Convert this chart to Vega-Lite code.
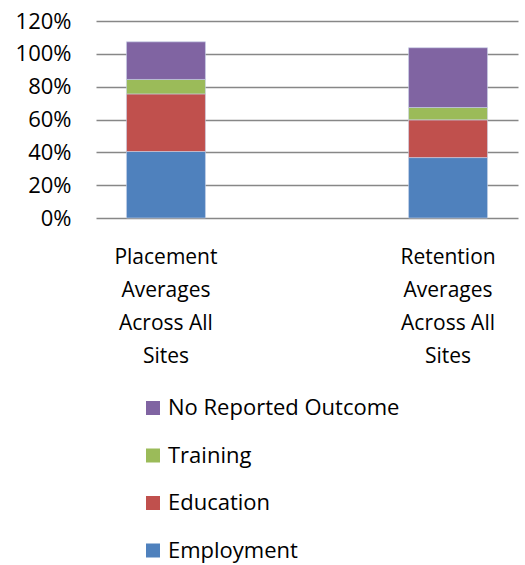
{
  "$schema": "https://vega.github.io/schema/vega-lite/v6.json",
  "autosize": "none",
  "width": 422,
  "height": 197,
  "padding": {"left": 96, "top": 21, "right": 7, "bottom": 347},
  "background": "white",
  "data": {
    "values": [
      {"site": "Placement|Averages|Across All|Sites", "outcome": "Employment", "value": 0.405, "ord": 1},
      {"site": "Placement|Averages|Across All|Sites", "outcome": "Education", "value": 0.351, "ord": 2},
      {"site": "Placement|Averages|Across All|Sites", "outcome": "Training", "value": 0.088, "ord": 3},
      {"site": "Placement|Averages|Across All|Sites", "outcome": "No Reported Outcome", "value": 0.229, "ord": 4},
      {"site": "Retention|Averages|Across All|Sites", "outcome": "Employment", "value": 0.368, "ord": 1},
      {"site": "Retention|Averages|Across All|Sites", "outcome": "Education", "value": 0.230, "ord": 2},
      {"site": "Retention|Averages|Across All|Sites", "outcome": "Training", "value": 0.075, "ord": 3},
      {"site": "Retention|Averages|Across All|Sites", "outcome": "No Reported Outcome", "value": 0.364, "ord": 4}
    ]
  },
  "mark": {"type": "bar", "stroke": "#c9d4ea", "strokeWidth": 0.6},
  "encoding": {
    "x": {
      "field": "site",
      "type": "nominal",
      "sort": null,
      "scale": {"paddingInner": 0.72, "paddingOuter": 0.108},
      "axis": {
        "title": null,
        "labelAngle": 0,
        "labelExpr": "split(datum.label, '|')",
        "labelFont": "Open Sans",
        "labelFontSize": 21,
        "labelLineHeight": 33,
        "labelColor": "#000000",
        "labelPadding": 28,
        "labelBaseline": "top",
        "ticks": false,
        "domain": false
      }
    },
    "y": {
      "field": "value",
      "type": "quantitative",
      "stack": "zero",
      "scale": {"domain": [0, 1.2]},
      "axis": {
        "title": null,
        "format": ".0%",
        "values": [0, 0.2, 0.4, 0.6, 0.8, 1.0, 1.2],
        "labelFont": "Open Sans",
        "labelFontSize": 22,
        "labelColor": "#000000",
        "labelPadding": 25,
        "ticks": false,
        "domain": false,
        "grid": true,
        "gridColor": "#878787",
        "gridWidth": 1.5
      }
    },
    "color": {
      "field": "outcome",
      "type": "nominal",
      "scale": {
        "domain": ["No Reported Outcome", "Training", "Education", "Employment"],
        "range": ["#8064A2", "#9BBB59", "#C0504D", "#4F81BD"]
      },
      "legend": {
        "title": null,
        "orient": "none",
        "legendX": 46,
        "legendY": 376,
        "direction": "vertical",
        "symbolType": "square",
        "symbolSize": 196,
        "symbolStrokeWidth": 0,
        "labelFont": "Open Sans",
        "labelFontSize": 22,
        "labelColor": "#000000",
        "labelOffset": 4,
        "labelLimit": 400,
        "rowPadding": 25.5
      }
    },
    "order": {"field": "ord", "type": "quantitative"}
  },
  "config": {
    "view": {"stroke": null}
  }
}
